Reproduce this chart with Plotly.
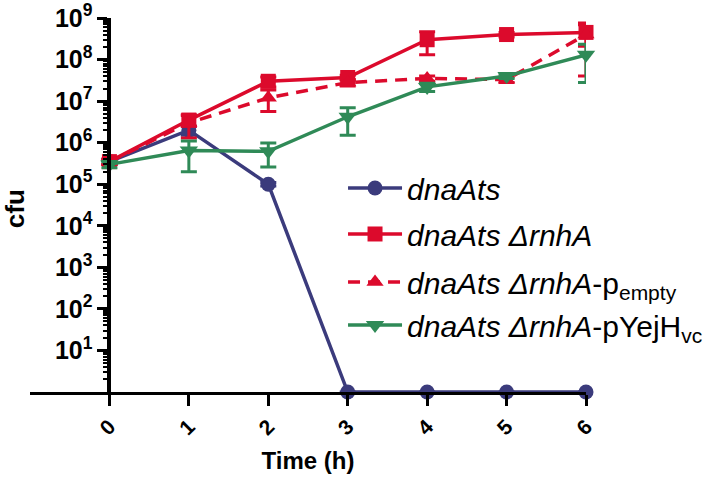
import plotly.graph_objects as go

time_h = [0, 1, 2, 3, 4, 5, 6]

dnaAts = [3.5e5, 2.0e6, 1.0e5, 1, 1, 1, 1]
dnaAts_sd = [5e4, 5e5, 1e4, 0, 0, 0, 0]

rnhA = [3.5e5, 3.5e6, 3.0e7, 3.7e7, 3.0e8, 4.0e8, 4.5e8]
rnhA_sd = [5e4, 1.0e6, 8e6, 5e6, 1.7e8, 5e7, 2.4e8]

rnhA_empty = [3.5e5, 3.0e6, 1.2e7, 2.8e7, 3.5e7, 3.3e7, 4.0e8]
rnhA_empty_sd = [5e4, 1.7e6, 6.4e6, 5e6, 5e6, 5e6, 3.6e8]

rnhA_yejH = [3.0e5, 6.5e5, 6.2e5, 4.2e6, 2.2e7, 4.0e7, 1.3e8]
rnhA_yejH_sd = [5e4, 4.5e5, 3.6e5, 2.7e6, 5e6, 5e6, 1.02e8]

y_tickvals = [10 ** k for k in range(1, 10)]
y_ticktext = ["10<sup>%d</sup>" % k for k in range(1, 10)]
x_ticktext = [str(t) for t in time_h]

NAVY = "#3b3b7c"
RED = "#dc0a2c"
GREEN = "#2f8a57"
FONT = "Liberation Sans"

fig = go.Figure()

def add(y, sd, name, color, symbol, legend, dash="solid", size=15):
    fig.add_trace(go.Scatter(
        x=time_h, y=y, name=name, mode="lines+markers",
        line=dict(color=color, width=3.5, dash=dash),
        marker=dict(color=color, symbol=symbol, size=size),
        error_y=dict(type="data", array=sd, color=color, thickness=3, width=8),
        cliponaxis=False, legend=legend,
    ))

add(dnaAts, dnaAts_sd, "<i>dnaAts</i>", NAVY, "circle", "legend", size=15)
add(rnhA, rnhA_sd, "<i>dnaAts ΔrnhA</i>", RED, "square", "legend2", size=15)
add(rnhA_empty, rnhA_empty_sd, "<i>dnaAts ΔrnhA</i>-p<sub>empty</sub>", RED, "triangle-up", "legend3", dash="12px,8px", size=15)
add(rnhA_yejH, rnhA_yejH_sd, "<i>dnaAts ΔrnhA</i>-pYejH<sub>vc</sub>", GREEN, "triangle-down", "legend4", size=16)

minor_vals = [m * 10 ** k for k in range(0, 9) for m in range(2, 10)]

# invisible trace that activates the minor-tick overlay axis
fig.add_trace(go.Scatter(x=[0], y=[1], yaxis="y2", mode="markers",
                         marker=dict(opacity=0), showlegend=False, hoverinfo="skip"))

L, R, T, B = 30, 123, 18, 91
xmin, xmax = -1.0, 6.0
ypos = (0 - xmin) / (xmax - xmin)

def leg(y):
    return dict(
        x=0.563, y=y, xanchor="left", yanchor="middle",
        font=dict(family=FONT, size=30, color="black"),
        bgcolor="rgba(0,0,0,0)", itemwidth=54,
    )

fig.update_layout(
    width=720, height=483,
    margin=dict(l=L, r=R, t=T, b=B),
    paper_bgcolor="white", plot_bgcolor="white",
    font=dict(family=FONT, color="black"),
    showlegend=True,
    legend=leg(0.5455),
    legend2=leg(0.4225),
    legend3=leg(0.2941),
    legend4=leg(0.1791),
    xaxis=dict(
        range=[xmin, xmax], tickvals=time_h, ticktext=x_ticktext,
        showgrid=False, zeroline=False, showline=True, linecolor="black", linewidth=3,
        ticks="outside", ticklen=11, tickwidth=3, tickcolor="black",
        tickangle=-45, automargin=False,
        tickfont=dict(family=FONT, size=21, weight="bold"),
        title=dict(text="Time (h)", font=dict(family=FONT, size=24, weight="bold"), standoff=14),
    ),
    yaxis=dict(
        type="log", range=[0, 9],
        anchor="free", position=ypos, automargin=False,
        tickvals=y_tickvals, ticktext=y_ticktext, ticklabeloverflow="allow",
        showgrid=False, zeroline=False, showline=True, linecolor="black", linewidth=4,
        ticks="outside", ticklen=10, tickwidth=3, tickcolor="black",
        tickfont=dict(family=FONT, size=25, weight="bold"),
    ),
    yaxis2=dict(
        type="log", range=[0, 9], overlaying="y",
        anchor="free", position=ypos, automargin=False,
        tickvals=minor_vals, showticklabels=False,
        showgrid=False, zeroline=False, showline=False,
        ticks="outside", ticklen=6, tickwidth=2, tickcolor="black",
    ),
    annotations=[dict(
        text="cfu", textangle=-90, xref="paper", yref="paper",
        x=-0.028, y=0.49, xanchor="center", yanchor="middle", showarrow=False,
        font=dict(family=FONT, size=26, weight="bold", color="black"),
    )],
)

fig.write_html("out.html", config={"displayModeBar": False},
               post_script="document.body.style.margin='0';")
